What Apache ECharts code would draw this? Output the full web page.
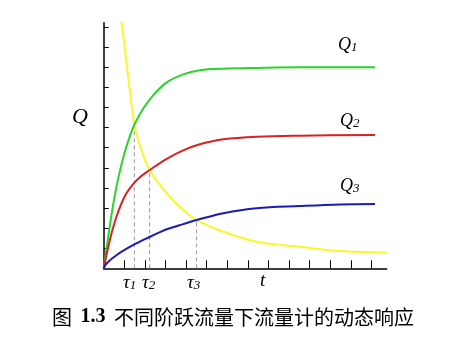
<!DOCTYPE html>
<html>
<head>
<meta charset="utf-8">
<script src="https://cdn.jsdelivr.net/npm/echarts@6/dist/echarts.min.js"></script>
<style>
  html, body { margin: 0; padding: 0; background: #fff; }
  #chart { width: 454px; height: 338px; }
</style>
</head>
<body>
<div id="chart"></div>
<script>
// Step responses of a flowmeter for three flow steps (t, Q pairs)
const q1Data = [[0,0],[0.22,1.57],[0.47,3.23],[0.71,4.5],[1.0,5.7],[1.28,6.6],[1.49,7.15],[1.92,7.95],[2.41,8.62],[3.06,9.25],[3.86,9.65],[4.67,9.85],[5.79,9.93],[7.43,9.97],[9.53,10.0],[13.17,10.0]];
const q2Data = [[0,0],[0.31,1.45],[0.63,2.6],[1.03,3.6],[1.44,4.2],[1.84,4.6],[2.23,4.89],[3.06,5.45],[3.86,5.87],[4.67,6.17],[5.81,6.42],[7.43,6.55],[9.53,6.60],[13.17,6.63]];
const q3Data = [[0,0],[0.15,0.25],[0.63,0.66],[1.44,1.16],[2.25,1.57],[2.73,1.8],[3.06,1.94],[3.86,2.20],[4.51,2.40],[5.81,2.74],[7.43,2.99],[9.53,3.10],[11.47,3.18],[13.17,3.20]];
// Decay curve crossing each response at its time constant
const decayData = [[0.80,12.6],[0.87,12.22],[1.12,10.11],[1.36,8.1],[1.49,7.15],[1.76,6.1],[2.23,4.89],[3.06,3.73],[3.86,2.90],[4.51,2.40],[5.81,1.82],[7.43,1.32],[9.53,1.07],[11.47,0.86],[13.74,0.78]];
// Time constants and the level of each crossing
const tauValues = [1.49, 2.23, 4.51];
const tauLevels = [7.15, 4.89, 2.40];
const xTicks = [1,2,3,4,5,6,7,8,9,10,11,12,13];
const yTicks = [1,2,3,4,5,6,7,8,9,10,11,12];
const seriesNames = ['Q1', 'Q2', 'Q3'];

const chart = echarts.init(document.getElementById('chart'), null, { renderer: 'canvas' });

const serif = '"Liberation Serif", "DejaVu Serif", serif';

const curve = (name, data, color, z) => ({
  name, type: 'line', data, smooth: 0.35, symbol: 'none', clip: true,
  lineStyle: { color, width: 2 }, z
});

const dashSeries = tauValues.map((t, i) => ({
  type: 'line', symbol: 'none', silent: true,
  data: [[t, 0], [t, tauLevels[i]]],
  lineStyle: { color: '#999', width: 1, type: [4, 3] }, z: 1
}));

const italic = (size) => ({ fontFamily: serif, fontStyle: 'italic', fontSize: size, fill: '#000' });

function subLabel(main, sub, x, y, size) {
  return {
    type: 'text', left: x, top: y,
    style: {
      text: '{m|' + main + '}{s|' + sub + '}',
      rich: {
        m: { fontFamily: serif, fontStyle: 'italic', fontSize: size, color: '#000' },
        s: { fontFamily: serif, fontStyle: 'italic', fontSize: Math.round(size * 0.7), color: '#000', verticalAlign: 'bottom', padding: [Math.round(size * 0.35), 0, 0, 0] }
      }
    }
  };
}

chart.setOption({
  animation: false,
  grid: { left: 103.7, right: 67.3, top: 22.7, bottom: 69.7, containLabel: false },
  xAxis: {
    type: 'value', min: 0, max: 13.74,
    splitLine: { show: false },
    axisLine: { lineStyle: { color: '#000', width: 1.5 } },
    axisTick: { inside: true, length: 8, customValues: xTicks, lineStyle: { color: '#000', width: 1 } },
    axisLabel: { show: false }
  },
  yAxis: {
    type: 'value', min: 0, max: 12.22,
    splitLine: { show: false },
    axisLine: { show: true, lineStyle: { color: '#000', width: 1.5 } },
    axisTick: { show: true, inside: true, length: 5, customValues: yTicks, lineStyle: { color: '#000', width: 1 } },
    axisLabel: { show: false }
  },
  series: [
    ...dashSeries,
    { type: 'line', data: decayData, smooth: 0.35, symbol: 'none', clip: true, lineStyle: { color: '#f7f72a', width: 2 }, z: 2 },
    curve(seriesNames[0], q1Data, '#2ad42a', 3),
    curve(seriesNames[1], q2Data, '#d82222', 3),
    curve(seriesNames[2], q3Data, '#1a1ab8', 3)
  ],
  graphic: [
    { type: 'text', left: 72, top: 106, style: Object.assign({ text: 'Q' }, italic(22)) },
    subLabel('Q', '1', 338, 36, 18),
    subLabel('Q', '2', 340, 112, 18),
    subLabel('Q', '3', 340, 177, 18),
    subLabel('τ', '1', 123, 273, 19),
    subLabel('τ', '2', 142, 273, 19),
    subLabel('τ', '3', 187, 273, 19),
    { type: 'text', left: 260, top: 271, style: Object.assign({ text: 't' }, italic(19)) },
    {
      type: 'text', left: 52, top: 307,
      style: {
        text: '{a|图 }{b|1.3}{a| 不同阶跃流量下流量计的动态响应}',
        rich: {
          a: { fontFamily: '"Noto Sans CJK SC", sans-serif', fontSize: 20, color: '#000' },
          b: { fontFamily: '"Liberation Serif", serif', fontSize: 20, fontWeight: 'bold', color: '#000', padding: [0, 4, 0, 4] }
        }
      }
    }
  ]
});
</script>
</body>
</html>
